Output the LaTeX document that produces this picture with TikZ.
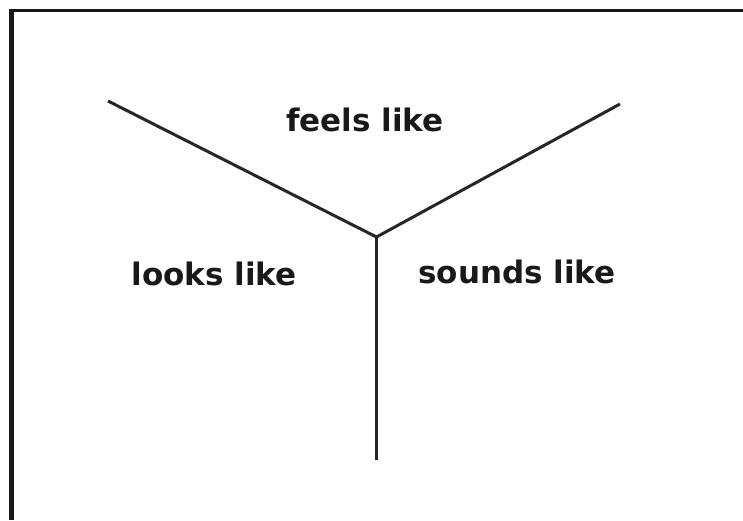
\documentclass[tikz,border=0pt]{standalone}
\usepackage{fontspec}
\setmainfont{DejaVu Sans}
\begin{document}
\begin{tikzpicture}[x=1pt,y=-1pt,
  branch/.style={line width=3pt,draw=black!85},
  lbl/.style={font=\fontsize{31}{36}\selectfont\bfseries,text=black!90,inner sep=0pt}]
\useasboundingbox[fill=white] (0,0) rectangle (743,520);
% frame (top and left only)
\fill[black!90] (9,9) rectangle (743,12);
\fill[black!90] (9,9) rectangle (14,520);
% branches
\coordinate (c) at (376.5,237);
\coordinate (tl) at (108,101);
\coordinate (tr) at (620,104);
\coordinate (b) at (376.5,460);
\draw[branch] (tl) -- (c) -- (tr);
\draw[branch] (c) -- (b);
% labels
\node[lbl] (feels) at (365,120) {feels like};
\node[lbl] (looks) at (214,274) {looks like};
\node[lbl] (sounds) at (517,272) {sounds like};
\end{tikzpicture}
\end{document}
